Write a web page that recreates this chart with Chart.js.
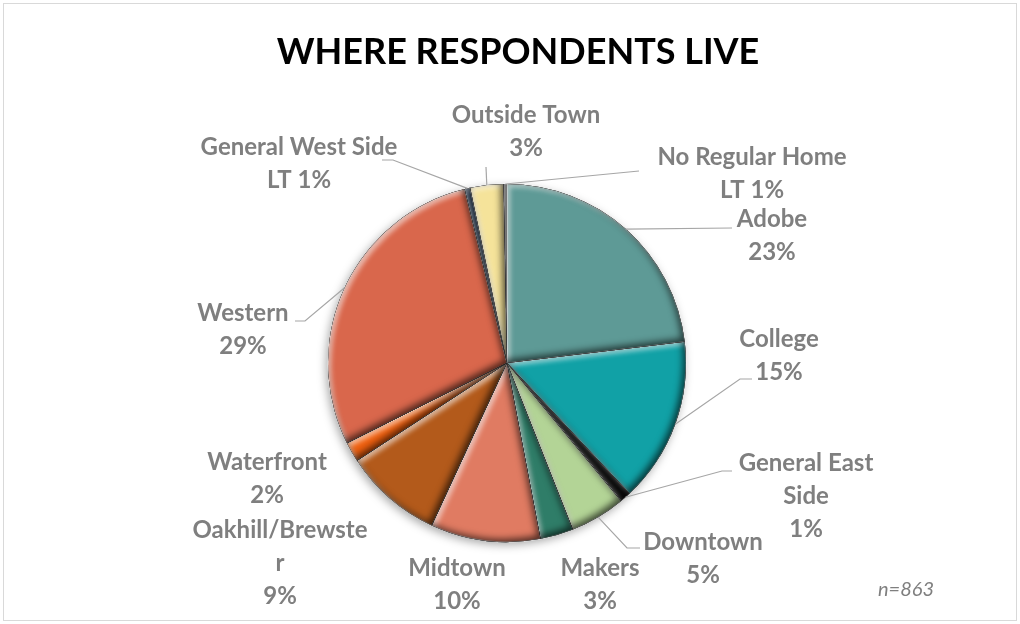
<!DOCTYPE html>
<html>
<head>
<meta charset="utf-8">
<title>Where Respondents Live</title>
<script src="https://cdn.jsdelivr.net/npm/chart.js@4.4.1/dist/chart.umd.min.js"></script>
<style>
  html, body { margin: 0; padding: 0; background: #ffffff; }
  #wrap { position: relative; width: 1020px; height: 624px; }
</style>
</head>
<body>
<div id="wrap"><canvas id="pie" width="1020" height="624"></canvas></div>
<script>
// share of respondents (%), n=863, clockwise from 12 o'clock
const areas = ["Adobe", "College", "General East\nSide", "Downtown", "Makers", "Midtown",
  "Oakhill/Brewste\nr", "Waterfront", "Western", "General West Side", "Outside Town", "No Regular Home"];
const shares = [23.1, 14.9, 1.0, 5.0, 3.0, 9.9, 8.9, 1.8, 28.6, 0.5, 3.0, 0.3];
const sliceColors = ["#5e9a96", "#11a1a6", "#0b0b0b", "#b3d496", "#2f7d68", "#e07b62",
  "#b35a1b", "#f0600f", "#d9674c", "#1f3a5a", "#f5e39a", "#e6e6e6"];
const sampleSize = 863;

// where each label block sits, and the bend of its leader line (null = no leader)
const labelLayout = [
  { x: 772, y: 219, leader: [[732, 228]] },
  { x: 779, y: 339, leader: [[740, 379], [752, 379]] },
  { x: 806, y: 463, leader: [[722, 471], [732, 471]] },
  { x: 703, y: 542, leader: [[627, 548], [640, 548]] },
  { x: 600, y: 568, leader: null },
  { x: 457, y: 568, leader: null },
  { x: 280, y: 530, leader: null },
  { x: 267, y: 462, leader: null },
  { x: 243, y: 313, leader: [[305, 321], [295, 321]] },
  { x: 299, y: 147, leader: [[393, 160], [382, 160]] },
  { x: 526, y: 115, leader: [[486, 167]] },
  { x: 752, y: 157, leader: [[639, 171]] }
];

function pctText(v) {
  return v < 1 ? "LT 1%" : Math.round(v) + "%";
}

// outline of one slice, used for the bevel shading
function slicePath(ctx, a) {
  ctx.beginPath();
  ctx.moveTo(a.x, a.y);
  ctx.arc(a.x, a.y, a.outerRadius, a.startAngle, a.endAngle);
  ctx.closePath();
}

const bevel = {
  id: "bevel",
  beforeDatasetsDraw(chart) {
    const a = chart.getDatasetMeta(0).data[0];
    const ctx = chart.ctx;
    ctx.save();
    ctx.shadowColor = "rgba(0,0,0,0.35)";
    ctx.shadowBlur = 10;
    ctx.shadowOffsetX = -2;
    ctx.shadowOffsetY = 3;
    ctx.fillStyle = "#ffffff";
    ctx.beginPath();
    ctx.arc(a.x, a.y, a.outerRadius, 0, Math.PI * 2);
    ctx.fill();
    ctx.restore();
  },
  afterDatasetsDraw(chart) {
    const ctx = chart.ctx;
    chart.getDatasetMeta(0).data.forEach((a) => {
      const passes = [
        { color: "rgba(255,255,255,0.6)", dx: 3, dy: 3, blur: 5 },
        { color: "rgba(0,0,0,0.65)", dx: -3, dy: -3, blur: 7 }
      ];
      passes.forEach((p) => {
        ctx.save();
        slicePath(ctx, a);
        ctx.clip();
        ctx.shadowColor = p.color;
        ctx.shadowBlur = p.blur;
        ctx.shadowOffsetX = p.dx;
        ctx.shadowOffsetY = p.dy;
        ctx.beginPath();
        ctx.rect(0, 0, chart.width, chart.height);
        ctx.moveTo(a.x, a.y);
        ctx.arc(a.x, a.y, a.outerRadius, a.startAngle, a.endAngle);
        ctx.closePath();
        ctx.fillStyle = "#000";
        ctx.fill("evenodd");
        ctx.restore();
      });
    });
  }
};

const annotations = {
  id: "annotations",
  beforeDraw(chart) {
    const ctx = chart.ctx;
    ctx.save();
    ctx.strokeStyle = "#d9d9d9";
    ctx.lineWidth = 1;
    ctx.strokeRect(3.5, 3.5, chart.width - 7, chart.height - 7);
    ctx.restore();
  },
  afterDraw(chart) {
    const ctx = chart.ctx;
    const arcs = chart.getDatasetMeta(0).data;
    ctx.save();

    ctx.fillStyle = "#000000";
    ctx.font = "bold 36px Lato";
    ctx.textAlign = "center";
    ctx.textBaseline = "middle";
    ctx.fillText("WHERE RESPONDENTS LIVE", 518, 52);

    ctx.strokeStyle = "#a6a6a6";
    ctx.lineWidth = 1.2;
    arcs.forEach((a, i) => {
      const lay = labelLayout[i];
      if (!lay.leader) return;
      const mid = (a.startAngle + a.endAngle) / 2;
      ctx.beginPath();
      ctx.moveTo(a.x + Math.cos(mid) * a.outerRadius, a.y + Math.sin(mid) * a.outerRadius);
      lay.leader.forEach((pt) => ctx.lineTo(pt[0], pt[1]));
      ctx.stroke();
    });

    ctx.fillStyle = "#7f7f7f";
    ctx.font = "bold 24px Lato";
    areas.forEach((name, i) => {
      const lines = name.split("\n").concat(pctText(shares[i]));
      const lay = labelLayout[i];
      lines.forEach((ln, k) => ctx.fillText(ln, lay.x, lay.y + k * 33));
    });

    ctx.font = "italic 20px Lato";
    ctx.fillText("n=" + sampleSize, 906, 590);
    ctx.restore();
  }
};

new Chart(document.getElementById("pie"), {
  type: "pie",
  data: {
    labels: areas,
    datasets: [{
      data: shares,
      backgroundColor: sliceColors,
      borderColor: "rgba(255,255,255,0.6)",
      borderWidth: 1
    }]
  },
  options: {
    responsive: false,
    animation: false,
    layout: { padding: { top: 183.5, bottom: 81.5, left: 327.5, right: 333.5 } },
    plugins: {
      legend: { display: false },
      tooltip: { enabled: false }
    }
  },
  plugins: [bevel, annotations]
});
</script>
</body>
</html>
